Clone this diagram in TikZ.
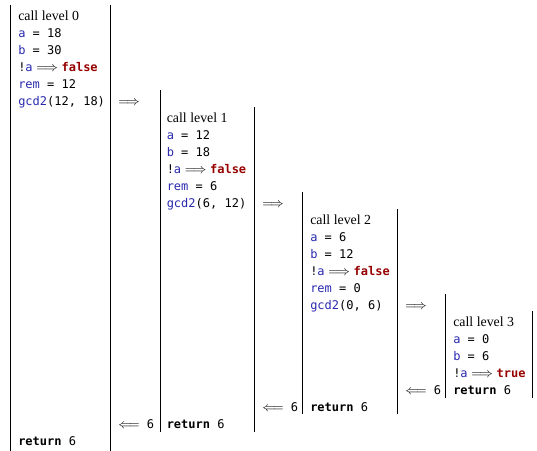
\documentclass[tikz,border=0pt]{standalone}
\usepackage{fontspec}
\setmainfont{Liberation Serif}
\setmonofont{DejaVu Sans Mono}
\usepackage{xcolor}
\usetikzlibrary{positioning}
\definecolor{varblue}{RGB}{40,40,175}
\definecolor{kwred}{RGB}{150,0,0}
\newcommand{\vr}[1]{\textcolor{varblue}{#1}}
\newcommand{\kw}[1]{\textcolor{kwred}{\bfseries #1}}
\newcommand{\mathsz}{\fontsize{10.4}{12}\selectfont}
\newcommand{\thenarrow}{{\mathsz$\;\Longrightarrow\;$}}
\newcommand{\callarrow}{{\mathsz$\Longrightarrow$}}
\newcommand{\backarrow}{{\mathsz$\Longleftarrow$}}
\tikzset{
cell/.style={
anchor=base west,
inner sep=0pt,
font=\ttfamily\fontsize{9}{10}\selectfont
},
head/.style={
anchor=base west,
inner sep=0pt,
font=\fontsize{10.4}{12}\selectfont
},
rule/.style={
line width=0.6pt
}
}

\begin{document}
\begin{tikzpicture}[x=0.75pt,y=-0.75pt]
\useasboundingbox (0,0) rectangle (537,451);

% level 0
\node[head](h0) at (18,20){call level 0};
\node[cell](a0) at (18,37){\vr{a} = 18};
\node[cell](b0) at (18,54){\vr{b} = 30};
\node[cell](n0) at (18,71){!\vr{a}\thenarrow\kw{false}};
\node[cell](r0) at (18,88){\vr{rem} = 12};
\node[cell](g0) at (18,105){\vr{gcd2}(12, 18)};
\node[cell](ret0) at (18,445){\textbf{return} 6};

% level 1
\node[head](h1) at (166.5,122){call level 1};
\node[cell](a1) at (166.5,139){\vr{a} = 12};
\node[cell](b1) at (166.5,156){\vr{b} = 18};
\node[cell](n1) at (166.5,173){!\vr{a}\thenarrow\kw{false}};
\node[cell](r1) at (166.5,190){\vr{rem} = 6};
\node[cell](g1) at (166.5,207){\vr{gcd2}(6, 12)};
\node[cell](ret1) at (166.5,428){\textbf{return} 6};

% level 2
\node[head](h2) at (310,224){call level 2};
\node[cell](a2) at (310,241){\vr{a} = 6};
\node[cell](b2) at (310,258){\vr{b} = 12};
\node[cell](n2) at (310,275){!\vr{a}\thenarrow\kw{false}};
\node[cell](r2) at (310,292){\vr{rem} = 0};
\node[cell](g2) at (310,309){\vr{gcd2}(0, 6)};
\node[cell](ret2) at (310,411){\textbf{return} 6};

% level 3
\node[head](h3) at (453,326){call level 3};
\node[cell](a3) at (453,343){\vr{a} = 0};
\node[cell](b3) at (453,360){\vr{b} = 6};
\node[cell](n3) at (453,377){!\vr{a}\thenarrow\kw{true}};
\node[cell](ret3) at (453,394){\textbf{return} 6};

% calls and returns
\node[cell](c01) at (118,105){\callarrow};
\node[cell](c12) at (262,207){\callarrow};
\node[cell](c23) at (405,309){\callarrow};
\node[cell](b32) at (405,394){\backarrow{} 6};
\node[cell](b21) at (262,411){\backarrow{} 6};
\node[cell](b10) at (118,428){\backarrow{} 6};

% column rules
\foreach \n/\x/\t/\b in {l0/10/5/451,r0/110/5/451,l1/160/90/432,r1/254/107/432,
l2/302/192/414,r2/397/209/414,l3/445/294/398,r3/532/311/398}{
\coordinate(\n top) at (\x,\t);
\coordinate(\n bot) at (\x,\b);
\draw[rule](\n top)--(\n bot);
}
\end{tikzpicture}
\end{document}
